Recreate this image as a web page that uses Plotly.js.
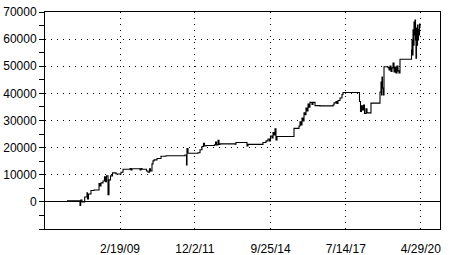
<!DOCTYPE html>
<html>
<head>
<meta charset="utf-8">
<script src="https://cdn.plot.ly/plotly-3.0.1.min.js"></script>
<style>html,body{margin:0;padding:0;background:#fff;}#chart{width:465px;height:255px;}</style>
</head>
<body>
<div id="chart"></div>
<script>
// Time in decimal years, equity value
var years = [2007.162,2007.646,2007.672,2007.720,2007.821,2007.906,2007.925,2007.962,2008.055,2008.167,
2008.353,2008.390,2008.427,2008.502,2008.557,2008.595,2008.632,2008.688,2008.725,2008.781,
2008.855,2008.985,2009.171,2009.246,2009.506,2009.543,2009.580,2009.878,2009.915,2009.952,
2010.120,2010.176,2010.231,2010.269,2010.324,2010.362,2010.399,2010.510,2010.659,2010.845,
2011.552,2011.608,2011.626,2011.664,2012.036,2012.110,2012.184,2012.240,2012.277,2012.333,
2012.649,2012.687,2012.724,2012.780,2012.817,2012.854,2013.412,2013.449,2013.858,2013.896,
2014.454,2014.565,2014.640,2014.695,2014.733,2014.788,2014.826,2014.863,2014.900,2014.937,
2014.974,2015.607,2015.793,2015.830,2015.867,2015.904,2015.942,2015.979,2016.016,2016.053,
2016.090,2016.128,2016.165,2016.202,2016.276,2016.314,2016.388,2016.574,2017.058,2017.095,
2017.169,2017.206,2017.244,2017.318,2017.392,2017.430,2018.043,2018.081,2018.118,2018.155,
2018.192,2018.229,2018.285,2018.322,2018.471,2018.806,2018.843,2018.862,2018.880,2018.899,
2018.936,2018.955,2019.104,2019.141,2019.178,2019.215,2019.252,2019.290,2019.327,2019.364,
2019.401,2019.438,2019.476,2019.513,2019.550,2019.978,2019.996,2020.015,2020.034,2020.052,
2020.071,2020.089,2020.108,2020.127,2020.145,2020.164,2020.182,2020.201,2020.220,2020.238,
2020.257,2020.276,2020.294];
var equity = [400,-1300,700,0,1800,3300,1100,2900,4200,4400,
6800,5900,7000,7700,9200,7400,9600,2600,8100,9600,
10700,10300,10900,12000,12300,11800,12200,11800,12300,12000,
11400,10900,12200,11400,14000,15100,15500,16000,16800,17000,
17300,13600,19700,17900,18100,19200,20400,21600,20600,20800,
21000,22100,21000,22700,21200,21400,21300,21900,20600,21200,
21900,22500,23200,22500,24300,23600,25600,24700,26900,22800,
24100,27100,28000,29500,28400,30900,29800,32800,32100,34600,
33500,36100,34900,36700,35900,36700,35500,35400,35700,36500,
37000,36300,37400,38300,39600,40300,37000,33300,35400,33900,
35700,32600,34300,32800,36400,40500,44200,39400,46000,42000,
39400,49800,49500,48600,50100,48100,49400,51200,47900,49700,
47500,50100,48300,47500,52600,56000,59700,54200,63400,57800,
66300,61500,67000,59700,53000,64100,57800,65200,59700,63400,
61500,65600,64100];

var xTickVals = [2009.134, 2011.918, 2014.734, 2017.533, 2020.325];
var xTickText = ['2/19/09', '12/2/11', '9/25/14', '7/14/17', '4/29/20'];
var yTickVals = [0, 10000, 20000, 30000, 40000, 50000, 60000, 70000];
var yTickText = ['0', '10000', '20000', '30000', '40000', '50000', '60000', '70000'];
var yMinorVals = [-10000, -5000, 5000, 15000, 25000, 35000, 45000, 55000, 65000];

var trace = {
  x: years, y: equity, type: 'scatter', mode: 'lines',
  line: {color: '#000', width: 1.1, shape: 'hv'},
  hoverinfo: 'skip'
};

var layout = {
  width: 465, height: 255,
  margin: {l: 45, r: 25, t: 12, b: 26, pad: 0},
  paper_bgcolor: '#fff', plot_bgcolor: '#fff',
  showlegend: false,
  font: {family: 'Liberation Sans, Arial, sans-serif', size: 12, color: '#000'},
  xaxis: {
    range: [2006.344, 2021.038],
    tickmode: 'array', tickvals: xTickVals, ticktext: xTickText,
    ticks: 'outside', ticklen: 9, tickcolor: 'rgba(0,0,0,0)',
    showgrid: true, gridcolor: '#000', gridwidth: 1, griddash: '1px,5px',
    zeroline: false,
    showline: true, linecolor: '#000', linewidth: 1, mirror: true,
    fixedrange: true
  },
  yaxis: {
    range: [-10000, 70000],
    tickmode: 'array', tickvals: yTickVals, ticktext: yTickText,
    ticks: 'outside', ticklen: 5, tickcolor: '#000', tickwidth: 1,
    minor: {tickmode: 'array', tickvals: yMinorVals, ticks: 'outside', ticklen: 5, tickcolor: '#000', tickwidth: 1, showgrid: false},
    showgrid: true, gridcolor: '#000', gridwidth: 1, griddash: '1px,5px',
    zeroline: true, zerolinecolor: '#000', zerolinewidth: 1,
    showline: true, linecolor: '#000', linewidth: 1, mirror: true,
    fixedrange: true
  }
};

Plotly.newPlot('chart', [trace], layout, {staticPlot: true, displayModeBar: false});
</script>
</body>
</html>
